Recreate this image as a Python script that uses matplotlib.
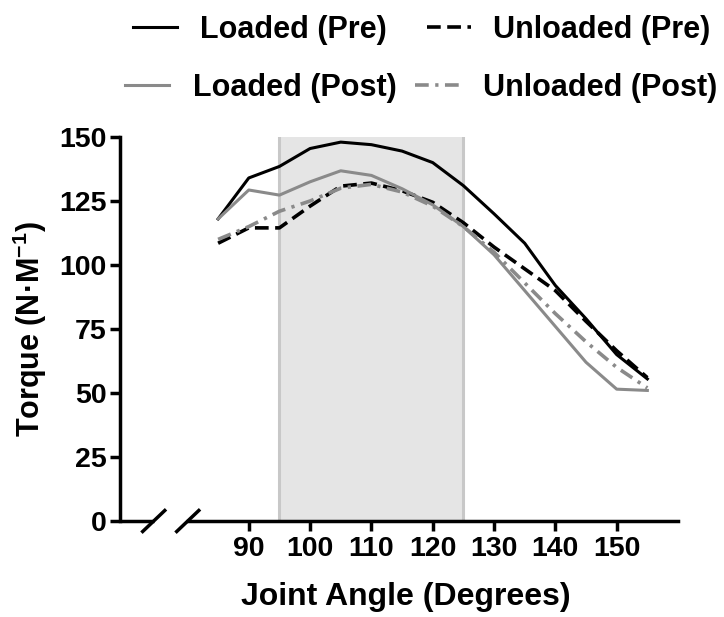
import matplotlib
matplotlib.use("Agg")
import matplotlib.pyplot as plt

plt.rcParams['font.family'] = ['Liberation Sans', 'DejaVu Sans']
plt.rcParams['font.weight'] = 'bold'
plt.rcParams['mathtext.fontset'] = 'custom'
plt.rcParams['mathtext.rm'] = 'Liberation Sans:bold'
plt.rcParams['mathtext.bf'] = 'Liberation Sans:bold'
plt.rcParams['mathtext.default'] = 'bf'

# joint angle (degrees) and torque values
angle = [85, 90, 95, 100, 105, 110, 115, 120, 125, 130, 135, 140, 145, 150, 155]
loaded_pre = [118, 134, 138.5, 145.5, 148, 147, 144.5, 140, 131, 120, 108.5, 92, 79, 65, 55.5]
unloaded_pre = [108.5, 114.5, 114.5, 123, 130.8, 132, 129, 124.5, 116.5, 107, 98.5, 90, 78, 66.5, 56]
loaded_post = [118, 129.3, 127.3, 132.5, 136.8, 135, 129.8, 123.5, 115, 104, 90, 76, 62, 51.5, 51]
unloaded_post = [110, 115, 121, 125, 130, 131.5, 128.5, 123, 115, 105, 93, 81, 70, 60, 52]

shade_lo, shade_hi = 95, 125
xticks = [90, 100, 110, 120, 130, 140, 150]
yticks = [0, 25, 50, 75, 100, 125, 150]

fig = plt.figure(figsize=(7.24, 6.17), dpi=100)
ax = fig.add_axes([120/724, 96/617, 558/724, 384/617])

gray = '#8a8a8a'
ax.axvspan(shade_lo, shade_hi, ymin=0, ymax=1, facecolor='#e5e5e5', edgecolor='none', zorder=0)
for xv in (shade_lo, shade_hi):
    ax.axvline(xv, color='#c8c8c8', lw=2.2, zorder=0.5)

h1, = ax.plot(angle, loaded_pre, color='black', lw=2.2, label='Loaded (Pre)')
h2, = ax.plot(angle, unloaded_pre, color='black', lw=2.6, dashes=(3.8, 1.8), label='Unloaded (Pre)')
h3, = ax.plot(angle, loaded_post, color=gray, lw=2.2, label='Loaded (Post)')
h4, = ax.plot(angle, unloaded_post, color=gray, lw=2.6, dashes=(3.8, 1.8, 0.9, 1.8), label='Unloaded (Post)')

ax.set_xlim(69, 160)
ax.set_ylim(0, 150)
ax.set_xticks(xticks)
ax.set_yticks(yticks)
ax.tick_params(axis='both', labelsize=20.5, width=2.5, length=7.5, pad=3)
ax.tick_params(axis='y', pad=2)

for s in ('top', 'right'):
    ax.spines[s].set_visible(False)
ax.spines['left'].set_linewidth(2.5)
ax.spines['bottom'].set_linewidth(2.5)

# broken x axis: short stub at the origin, then the main segment
brk1, brk2 = 74.5, 80.05
ax.spines['bottom'].set_bounds(brk2, 160)
ax.plot([69, brk1], [0, 0], color='black', lw=2.5, clip_on=False, solid_capstyle='butt')
for b in (brk1, brk2):
    ax.plot([b - 1.8, b + 1.8], [-4.1, 4.1], color='black', lw=2.5, clip_on=False)

ax.set_xlabel('Joint Angle (Degrees)', fontsize=23, fontweight='bold')
ax.set_ylabel('Torque (N·M$^{-1}$)', fontsize=22, fontweight='bold')
ax.xaxis.set_label_coords(0.513, -0.16)
ax.yaxis.set_label_coords(-0.128, 0.5)

fs = 22
fig.legend(handles=[h1, h2], loc='center left', bbox_to_anchor=(133/724, 1 - 30/617),
           bbox_transform=fig.transFigure, ncol=2, frameon=False, borderpad=0, borderaxespad=0,
           handlelength=44/30.6, handletextpad=23/30.6, columnspacing=40/30.6,
           prop={'size': fs, 'weight': 'bold'})
fig.legend(handles=[h3, h4], loc='center left', bbox_to_anchor=(125/724, 1 - 88/617),
           bbox_transform=fig.transFigure, ncol=2, frameon=False, borderpad=0, borderaxespad=0,
           handlelength=44/30.6, handletextpad=24/30.6, columnspacing=18/30.6,
           prop={'size': fs, 'weight': 'bold'})

fig.savefig('out.png', dpi=100)
